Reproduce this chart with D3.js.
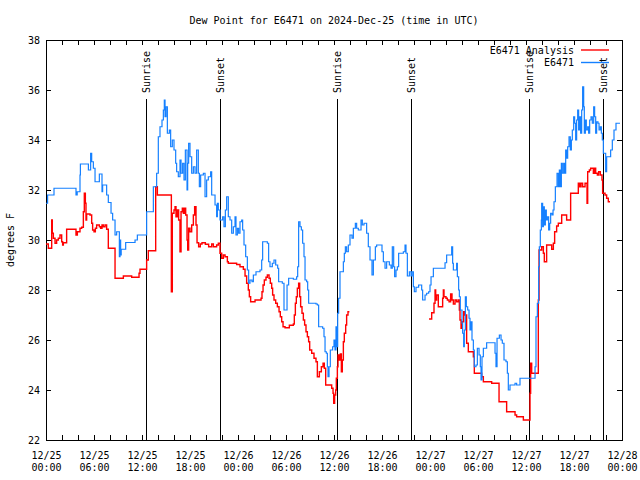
<!DOCTYPE html>
<html>
<head>
<meta charset="utf-8">
<script src="https://cdn.jsdelivr.net/npm/d3@7"></script>
<style>
  html, body { margin: 0; padding: 0; background: #fff; }
  svg text { font-family: "DejaVu Sans Mono", monospace; font-size: 10px; fill: #000; }
</style>
</head>
<body>
<svg id="chart" width="640" height="480"></svg>
<script>
// ---- data (hours after 2024-12-25 00:00 UTC) ----
const titleText = "Dew Point for E6471 on 2024-Dec-25 (time in UTC)";
const yLabel = "degrees F";
const seriesNames = ["E6471 Analysis", "E6471"];
const yTicks = [22, 24, 26, 28, 30, 32, 34, 36, 38];
const xLabelHours = [0, 6, 12, 18, 24, 30, 36, 42, 48, 54, 60, 66, 72];
const xMinorHours = d3.range(0, 73, 2);
const sunLabels = ["Sunrise", "Sunset", "Sunrise", "Sunset", "Sunrise", "Sunset"];
const sunHours = [12.5, 21.75, 36.42, 45.67, 60.42, 69.67];

const obsHours = [0.0,0.2,1.0,3.75,3.9,4.25,4.3,5.3,5.58,5.71,5.92,6.13,6.67,7.0,7.08,7.58,7.79,8.13,8.33,8.63,8.83,9.17,9.25,9.33,9.4,9.96,11.13,11.42,12.58,13.42,13.83,14.04,14.25,14.5,14.67,14.79,14.88,15.0,15.17,15.42,15.58,15.79,16.0,16.21,16.33,16.54,16.75,16.88,17.08,17.25,17.42,17.63,17.71,17.83,18.0,18.21,18.42,18.63,18.83,19.04,19.17,19.33,19.67,19.88,20.08,20.29,20.58,20.71,21.13,21.33,21.42,21.54,21.75,22.08,22.25,22.42,22.58,22.79,23.0,23.21,23.42,23.63,23.75,23.92,24.08,24.25,24.46,24.58,24.75,24.96,25.17,25.33,25.5,25.75,25.92,26.25,26.75,26.96,27.08,27.67,27.83,28.0,28.29,28.5,28.71,28.96,29.08,29.54,29.75,30.13,30.33,30.92,31.33,31.46,31.58,31.75,31.92,32.08,32.25,32.38,32.58,32.71,32.83,33.75,33.92,34.08,34.58,34.75,34.88,35.04,35.17,35.25,35.38,35.54,35.83,36.0,36.13,36.25,36.33,36.46,36.58,36.75,37.17,37.29,37.42,37.58,37.79,38.0,38.25,38.42,38.67,38.83,39.04,39.38,39.54,39.75,40.08,40.29,40.5,40.75,40.92,41.17,41.33,42.0,42.17,42.38,42.58,42.92,43.13,43.29,43.46,43.58,43.75,43.92,44.08,44.67,44.88,45.0,45.17,45.42,45.63,45.75,45.92,46.04,46.25,46.58,46.96,47.08,47.38,47.58,47.83,48.0,48.13,48.42,49.88,50.08,50.71,50.83,50.92,51.33,51.42,51.58,51.67,51.79,52.0,52.08,52.21,52.29,52.42,52.54,52.71,52.88,53.0,53.13,53.25,53.42,53.54,53.75,53.92,54.13,54.29,54.38,54.5,54.67,55.08,56.13,56.25,56.38,56.67,56.88,57.04,57.25,57.5,57.67,57.79,58.0,58.63,58.83,59.25,61.13,61.25,61.42,61.58,61.67,61.79,61.92,61.96,62.08,62.17,62.29,62.42,62.54,62.67,62.83,62.96,63.08,63.25,63.38,63.5,63.67,63.88,64.04,64.17,64.29,64.42,64.54,64.71,64.83,64.96,65.08,65.21,65.38,65.54,65.67,65.79,65.96,66.08,66.21,66.33,66.46,66.58,66.71,66.83,66.96,67.08,67.21,67.29,67.42,67.54,67.71,67.83,67.96,68.13,68.29,68.46,68.58,68.71,68.83,69.0,69.13,69.29,69.42,69.54,69.67,69.96,70.08,70.58,70.79,71.0,71.25,71.75];
const obsValues = [31.47,31.8,32.07,31.8,31.93,32.6,33.04,32.8,33.47,33.13,32.87,32.33,32.64,31.93,32.2,31.8,31.5,31.07,30.8,30.2,30.33,29.33,30.0,29.4,29.63,29.9,30.0,30.2,31.13,32.13,32.67,34.13,34.53,34.8,35.2,35.6,34.93,35.33,34.27,34.4,33.73,34.0,33.6,33.07,32.73,32.53,33.2,32.67,33.07,32.4,33.6,32.0,33.07,33.87,33.33,32.67,32.93,32.67,33.6,32.67,32.13,32.6,32.67,31.73,32.4,32.53,32.73,31.8,31.4,30.93,31.47,31.2,30.8,30.93,30.53,31.2,31.73,30.93,30.8,30.27,30.53,30.93,30.2,30.47,30.27,30.73,30.8,30.4,29.8,29.33,28.8,28.27,28.4,28.33,28.6,28.73,28.8,29.2,29.93,29.87,29.13,28.93,29.07,29.2,29.0,28.87,28.33,28.27,27.2,28.2,28.47,28.43,28.53,28.93,30.73,30.53,30.4,29.87,29.33,28.4,28.33,28.0,27.47,27.44,27.4,26.53,26.47,26.13,25.53,25.47,24.93,24.53,24.93,25.6,25.73,26.0,25.6,26.53,25.73,27.07,27.67,28.73,29.13,29.47,29.73,29.53,29.8,30.2,30.07,30.47,30.67,30.47,30.4,30.8,30.6,30.67,30.27,29.73,29.2,28.6,29.2,29.73,29.8,29.53,29.13,28.87,29.13,29.0,28.87,29.73,28.93,28.53,28.8,28.93,29.47,29.53,29.8,29.47,28.56,28.73,28.56,28.73,28.13,27.93,28.11,28.2,28.0,27.6,27.8,27.87,27.93,28.2,28.53,28.87,29.09,29.4,29.73,29.07,28.8,29.07,28.53,28.0,27.73,27.2,26.67,26.27,25.73,26.4,27.73,27.33,27.2,26.87,26.4,26.73,26.0,25.6,24.93,25.0,25.67,25.4,24.93,24.4,25.33,25.67,25.89,25.47,24.93,26.07,26.2,26.0,25.87,25.2,25.13,24.67,24.0,24.2,24.27,24.2,24.47,24.93,26.93,27.47,28.93,29.73,30.4,30.8,31.47,30.53,31.33,30.6,31.2,30.8,30.93,30.4,30.67,31.07,31.0,31.2,31.53,32.13,32.67,32.13,32.8,32.13,33.07,32.67,33.07,32.67,33.6,33.27,33.73,34.13,33.6,34.0,34.4,34.93,34.67,34.0,34.8,35.2,34.4,34.93,34.27,35.2,36.13,35.33,34.27,34.8,34.4,34.53,34.27,34.8,34.93,34.67,35.33,34.93,34.27,34.73,34.67,34.4,34.53,34.27,34.0,33.47,32.73,33.33,33.6,34.0,34.4,34.67,34.67];

const anaHours = [0.0,0.29,0.71,0.79,0.92,1.13,1.33,1.54,1.75,1.96,2.08,2.17,2.58,3.75,3.92,4.25,4.46,4.67,4.79,4.92,5.0,5.08,5.5,5.71,5.83,6.0,6.17,6.33,6.67,6.83,7.0,7.17,7.38,7.58,7.79,8.63,9.67,10.71,11.63,11.75,12.58,12.79,13.71,13.92,15.67,15.79,16.0,16.13,16.25,16.42,16.58,16.75,16.88,17.04,17.17,17.29,17.46,17.63,17.71,17.83,18.0,18.21,18.42,18.58,18.75,18.88,19.08,19.29,19.5,19.92,20.33,20.71,20.92,21.33,21.54,21.75,21.96,22.17,22.38,22.67,22.79,23.83,24.25,24.67,24.88,25.08,25.29,25.42,25.58,26.13,26.88,27.0,27.13,27.29,27.5,27.67,27.88,28.04,28.21,28.33,28.5,28.71,28.92,29.13,29.29,29.46,29.63,29.88,30.42,30.92,31.04,31.17,31.29,31.42,31.58,31.71,31.83,32.0,32.17,32.33,32.5,32.67,32.83,32.96,33.21,33.5,33.75,33.92,34.17,34.42,34.63,34.79,34.96,35.71,35.88,35.96,36.08,36.21,36.29,36.42,36.5,36.63,36.79,36.92,37.04,37.17,37.29,37.46,37.58,37.75,37.92,42.0,47.88,48.21,48.5,48.63,48.71,48.83,49.04,49.58,49.67,49.75,50.0,50.17,50.38,50.58,50.75,50.92,51.13,51.33,51.54,51.67,51.75,51.88,52.04,52.21,52.38,52.58,52.79,53.42,53.54,54.46,54.67,55.71,56.63,57.58,58.63,58.83,59.67,60.5,60.58,60.71,61.54,61.63,61.96,62.17,62.29,62.58,63.21,63.42,63.58,63.83,64.04,64.46,65.08,65.58,66.54,66.71,66.88,67.08,67.38,67.63,67.71,67.92,68.08,68.42,68.54,68.71,68.92,69.08,69.29,69.5,69.58,69.88,70.08,70.29,70.5];
const anaValues = [29.84,29.67,30.8,30.27,30.07,29.87,30.0,30.07,30.2,29.93,29.8,29.89,30.43,30.2,30.33,30.47,30.51,31.13,31.87,31.47,30.8,31.04,31.0,30.67,30.4,30.33,30.47,30.6,30.53,30.47,30.6,30.53,30.6,30.43,29.67,28.47,28.56,28.51,28.67,28.83,29.2,29.57,32.13,31.8,27.93,31.07,31.2,31.33,30.93,31.2,30.8,29.53,31.13,31.27,31.07,31.27,31.0,30.0,29.6,30.47,30.33,30.6,31.0,31.33,30.6,29.89,29.73,29.84,29.89,29.83,29.73,29.84,29.73,29.8,29.87,29.47,29.27,29.4,29.33,29.13,29.07,29.02,28.93,28.83,28.56,28.27,28.0,27.73,27.53,27.6,27.67,27.93,28.2,28.4,28.51,28.6,28.47,28.27,28.07,27.8,27.6,27.47,27.33,27.13,26.93,26.73,26.53,26.49,26.59,26.64,27.0,27.47,27.73,28.07,28.27,27.73,27.33,27.07,26.8,26.6,26.33,26.13,25.93,25.6,25.47,25.27,25.13,24.53,24.73,24.93,25.07,24.87,24.2,24.07,23.87,23.47,23.8,24.0,24.47,24.93,25.4,25.2,25.44,24.73,25.2,25.93,26.27,26.6,27.0,27.13,27.13,null,26.84,27.09,27.47,28.0,27.6,27.8,27.33,27.67,28.0,27.73,27.67,27.6,27.53,27.84,27.6,27.44,27.6,27.53,27.6,27.2,26.8,26.47,26.73,27.13,27.0,25.87,25.53,25.33,24.67,24.53,24.33,24.27,23.53,23.13,23.0,22.93,22.8,23.87,25.07,24.67,27.6,29.6,29.73,29.47,29.13,29.8,29.63,29.87,30.33,30.56,30.67,31.0,30.8,31.87,32.27,32.13,32.27,32.13,32.27,31.47,32.73,32.8,32.87,32.67,32.87,32.67,32.6,32.73,32.6,32.4,31.87,31.8,31.67,31.53,31.53];

// ---- drawing ----
const svg = d3.select("#chart");
const W = 640, H = 480;
const m = { left: 46, right: 18, top: 40, bottom: 40 };
const base = Date.UTC(2024, 11, 25, 0, 0, 0);
const toDate = h => new Date(base + h * 3600e3);

const x = d3.scaleUtc().domain([toDate(0), toDate(72)]).range([m.left, W - m.right]);
const y = d3.scaleLinear().domain([22, 38]).range([H - m.bottom, m.top]);

svg.append("rect").attr("width", W).attr("height", H).attr("fill", "#fff");

// title
svg.append("text").attr("x", (m.left + W - m.right) / 2).attr("y", 20).attr("dy", "0.35em")
  .attr("text-anchor", "middle").text(titleText);

// axes with inward ticks
const tickLen = 5;
const gB = svg.append("g").attr("transform", `translate(0,${H - m.bottom})`)
  .call(d3.axisBottom(x).tickValues(xMinorHours.map(toDate)).tickSize(-tickLen).tickFormat(""));
const gT = svg.append("g").attr("transform", `translate(0,${m.top})`)
  .call(d3.axisTop(x).tickValues(xMinorHours.map(toDate)).tickSize(-tickLen).tickFormat(""));
const gL = svg.append("g").attr("transform", `translate(${m.left},0)`)
  .call(d3.axisLeft(y).tickValues(yTicks).tickSize(-tickLen).tickPadding(6).tickFormat(d3.format("d")));
const gR = svg.append("g").attr("transform", `translate(${W - m.right},0)`)
  .call(d3.axisRight(y).tickValues(yTicks).tickSize(-tickLen).tickFormat(""));
[gB, gT, gL, gR].forEach(g => {
  g.select(".domain").remove();
  g.attr("font-family", null).attr("font-size", null);
  g.selectAll("line").attr("stroke", "#000").attr("shape-rendering", "crispEdges");
});

// x labels, two lines
const gX = svg.append("g").attr("transform", `translate(0,${H - m.bottom})`)
  .call(d3.axisBottom(x).tickValues(xLabelHours.map(toDate)).tickSize(0).tickPadding(0).tickFormat(""));
gX.select(".domain").remove();
gX.attr("font-family", null).attr("font-size", null);
gX.selectAll(".tick").each(function(d) {
  const t = d3.select(this).select("text").attr("y", 0).attr("dy", null);
  t.append("tspan").attr("x", 0).attr("y", 15).attr("dy", "0.35em").text(d3.utcFormat("%m/%d")(d));
  t.append("tspan").attr("x", 0).attr("y", 27).attr("dy", "0.35em").text(d3.utcFormat("%H:%M")(d));
});

// y label
svg.append("text").attr("transform", `translate(10,${(m.top + H - m.bottom) / 2}) rotate(-90)`)
  .attr("dy", "0.35em").attr("text-anchor", "middle").text(yLabel);

// frame
svg.append("rect").attr("x", m.left + 0.5).attr("y", m.top + 0.5)
  .attr("width", W - m.left - m.right).attr("height", H - m.top - m.bottom)
  .attr("fill", "none").attr("stroke", "#000").attr("shape-rendering", "crispEdges");

// sunrise / sunset
const gS = svg.append("g");
sunHours.forEach((h, i) => {
  const xs = Math.round(x(toDate(h))) + 0.5;
  gS.append("line").attr("x1", xs).attr("x2", xs).attr("y1", 99).attr("y2", H - m.bottom)
    .attr("stroke", "#000").attr("stroke-width", 1).attr("shape-rendering", "crispEdges");
  gS.append("text").attr("transform", `translate(${xs},93) rotate(-90)`)
    .attr("dy", "0.35em").attr("text-anchor", "start").text(sunLabels[i]);
});

// series
const ana = anaHours.map((h, i) => ({ t: toDate(h), v: anaValues[i] }));
const obs = obsHours.map((h, i) => ({ t: toDate(h), v: obsValues[i] }));
const line = d3.line().defined(d => d.v != null).x(d => x(d.t)).y(d => y(d.v)).curve(d3.curveStepAfter);

svg.append("path").datum(ana).attr("d", line).attr("fill", "none")
  .attr("stroke", "#ff0000").attr("stroke-width", 1.4).attr("stroke-linejoin", "miter");
svg.append("path").datum(obs).attr("d", line).attr("fill", "none")
  .attr("stroke", "#1580ff").attr("stroke-width", 1.2).attr("stroke-linejoin", "miter");

// legend
const legColors = ["#ff0000", "#1580ff"];
seriesNames.forEach((name, i) => {
  const ly = 50 + i * 12.5;
  svg.append("text").attr("x", 574).attr("y", ly).attr("dy", "0.35em").attr("text-anchor", "end").text(name);
  svg.append("line").attr("x1", 581).attr("x2", 609).attr("y1", ly).attr("y2", ly)
    .attr("stroke", legColors[i]).attr("stroke-width", 1.4);
});
</script>
</body>
</html>
